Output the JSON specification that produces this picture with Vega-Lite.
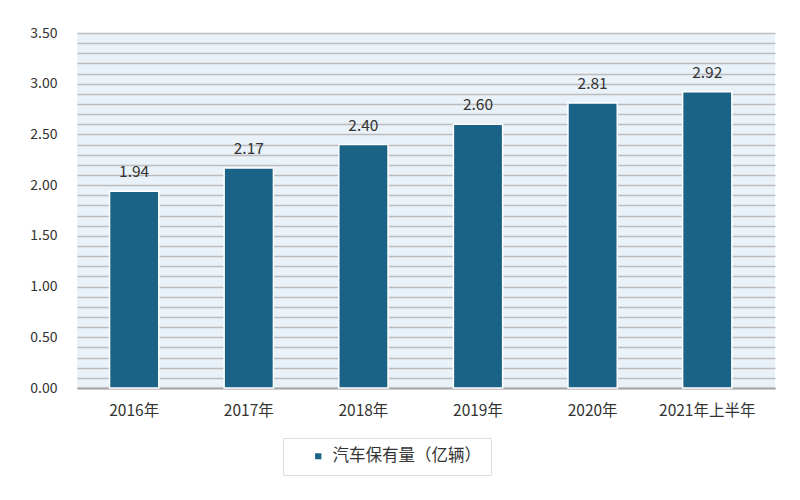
{
  "$schema": "https://vega.github.io/schema/vega-lite/v6.json",
  "width": 698,
  "height": 355,
  "autosize": {"type": "none"},
  "padding": {"left": 77, "top": 33, "right": 25, "bottom": 112},
  "background": "#ffffff",
  "config": {
    "font": "Noto Sans CJK SC",
    "view": {"fill": "#eaf2f9", "stroke": null}
  },
  "data": {
    "values": [
      {"year": "2016年", "value": 1.94, "series": "汽车保有量（亿辆）"},
      {"year": "2017年", "value": 2.17, "series": "汽车保有量（亿辆）"},
      {"year": "2018年", "value": 2.40, "series": "汽车保有量（亿辆）"},
      {"year": "2019年", "value": 2.60, "series": "汽车保有量（亿辆）"},
      {"year": "2020年", "value": 2.81, "series": "汽车保有量（亿辆）"},
      {"year": "2021年上半年", "value": 2.92, "series": "汽车保有量（亿辆）"}
    ]
  },
  "encoding": {
    "x": {
      "field": "year",
      "type": "nominal",
      "sort": null,
      "scale": {"paddingInner": 0.57, "paddingOuter": 0.33, "align": 0.43},
      "axis": {
        "title": null,
        "labelAngle": 0,
        "labelFontSize": 15.5,
        "labelColor": "#333333",
        "labelPadding": 15,
        "ticks": false,
        "domain": true,
        "domainColor": "#a6a6a6",
        "domainWidth": 2
      }
    },
    "y": {
      "field": "value",
      "type": "quantitative",
      "scale": {"domain": [0, 3.5], "nice": false},
      "axis": {
        "title": null,
        "values": [0,0.1,0.2,0.3,0.4,0.5,0.6,0.7,0.8,0.9,1.0,1.1,1.2,1.3,1.4,1.5,1.6,1.7,1.8,1.9,2.0,2.1,2.2,2.3,2.4,2.5,2.6,2.7,2.8,2.9,3.0,3.1,3.2,3.3,3.4,3.5],
        "labelExpr": "abs(datum.value*2 - round(datum.value*2)) < 0.001 ? format(datum.value, '.2f') : ''",
        "labelFontSize": 14,
        "labelColor": "#333333",
        "labelPadding": 20,
        "ticks": false,
        "domain": false,
        "grid": true,
        "gridColor": "#bcbcbc",
        "gridWidth": 1.5
      }
    }
  },
  "layer": [
    {
      "mark": {"type": "bar", "stroke": "#ffffff", "strokeWidth": 1.5},
      "encoding": {
        "color": {
          "field": "series",
          "type": "nominal",
          "scale": {"range": ["#1b6386"]},
          "legend": {
            "title": null,
            "orient": "none",
            "legendX": 206,
            "legendY": 405,
            "symbolType": "square",
            "symbolSize": 60,
            "symbolOffset": 17,
            "labelOffset": 6,
            "labelFontSize": 16.5,
            "labelColor": "#333333",
            "padding": 10,
            "strokeColor": "#dedede",
            "fillColor": "#ffffff"
          }
        }
      }
    },
    {
      "mark": {"type": "text", "dy": -19, "fontSize": 15.5, "color": "#333333"},
      "encoding": {
        "text": {"field": "value", "type": "quantitative", "format": ".2f"}
      }
    }
  ]
}
